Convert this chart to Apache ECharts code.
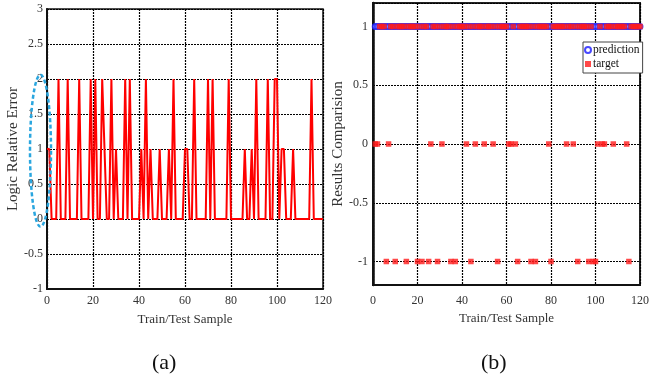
<!DOCTYPE html>
<html>
<head>
<meta charset="utf-8">
<script src="https://cdn.jsdelivr.net/npm/echarts@6/dist/echarts.min.js"></script>
<style>
  html, body { margin: 0; padding: 0; background: #fff; }
  #chart { width: 665px; height: 385px; }
</style>
</head>
<body>
<div id="chart"></div>
<script>
// (a) logic relative error per sample, samples 0..120
const errorValues = [
  1, 1, 0, 0, 0, 2, 0, 0, 0, 2,
  0, 0, 0, 0, 2, 0, 0, 0, 0, 2,
  0, 2, 0, 0, 2, 1, 0, 0, 2, 0,
  1, 0, 0, 0, 2, 0, 2, 0, 0, 0,
  0, 1, 0, 2, 0, 1, 0, 0, 0, 1,
  0, 0, 0, 1, 0, 2, 0, 0, 0, 0,
  1, 1, 0, 0, 2, 0, 0, 0, 0, 0,
  2, 0, 2, 0, 0, 0, 0, 0, 0, 2,
  0, 0, 0, 0, 0, 0, 1, 0, 0, 1,
  0, 2, 0, 0, 0, 0, 2, 0, 0, 2,
  2, 0, 1, 1, 0, 0, 0, 1, 0, 0,
  0, 0, 0, 0, 0, 2, 0, 0, 0, 0,
  0
]

// (b) target class per sample, samples 1..120
const targetValues = [
  0, 0, 1, 1, 1, -1, 0, 1, 1, -1,
  1, 1, 1, 1, -1, 1, 1, 1, 1, -1,
  1, -1, 1, 1, -1, 0, 1, 1, -1, 1,
  0, 1, 1, 1, -1, 1, -1, 1, 1, 1,
  1, 0, 1, -1, 1, 0, 1, 1, 1, 0,
  1, 1, 1, 0, 1, -1, 1, 1, 1, 1,
  0, 0, 1, 0, -1, 1, 1, 1, 1, 1,
  -1, 1, -1, 1, 1, 1, 1, 1, 0, -1,
  1, 1, 1, 1, 1, 1, 0, 1, 1, 0,
  1, -1, 1, 1, 1, 1, -1, 1, -1, -1,
  0, 1, 0, 0, 1, 1, 1, 0, 1, 1,
  1, 1, 1, 0, -1, 1, 1, 1, 1, 1
]

// (b) predicted class per sample, samples 1..120
const predictionValues = [
  1, 1, 1, 1, 1, 1, 1, 1, 1, 1,
  1, 1, 1, 1, 1, 1, 1, 1, 1, 1,
  1, 1, 1, 1, 1, 1, 1, 1, 1, 1,
  1, 1, 1, 1, 1, 1, 1, 1, 1, 1,
  1, 1, 1, 1, 1, 1, 1, 1, 1, 1,
  1, 1, 1, 1, 1, 1, 1, 1, 1, 1,
  1, 1, 1, 1, 1, 1, 1, 1, 1, 1,
  1, 1, 1, 1, 1, 1, 1, 1, 1, 1,
  1, 1, 1, 1, 1, 1, 1, 1, 1, 1,
  1, 1, 1, 1, 1, 1, 1, 1, 1, 1,
  1, 1, 1, 1, 1, 1, 1, 1, 1, 1,
  1, 1, 1, 1, 1, 1, 1, 1, 1, 1
]

const xTicks = { min: 0, max: 120, interval: 20 }
const panelLabels = ['(a)', '(b)']

const FONT = '"Liberation Serif", "DejaVu Serif", serif'
const TEXT = '#333'

const errorData = errorValues.map((v, i) => [i, v])
const targetData = targetValues.map((v, i) => [i + 1, v])
const predictionData = predictionValues.map((v, i) => [i + 1, v])

const gridLine = { show: true, lineStyle: { color: '#000', type: [2, 1], width: 1.2 } }

function xAxisFor(gridIndex, margin, nameGap) {
  return {
    type: 'value',
    gridIndex,
    min: xTicks.min,
    max: xTicks.max,
    interval: xTicks.interval,
    axisLine: { show: true, onZero: false, lineStyle: { color: '#111', width: 2 } },
    axisTick: { show: false },
    axisLabel: { color: TEXT, fontFamily: FONT, fontSize: 12, margin },
    splitLine: gridLine,
    name: 'Train/Test Sample',
    nameLocation: 'middle',
    nameGap,
    nameTextStyle: { color: TEXT, fontFamily: FONT, fontSize: 13 },
  }
}

const chart = echarts.init(document.getElementById('chart'), null, { renderer: 'canvas' })

chart.setOption({
  animation: false,
  backgroundColor: '#fff',
  grid: [
    { left: 47, top: 9, width: 276, height: 280, show: true, borderColor: '#111', borderWidth: 1.5 },
    { left: 373, top: 3, width: 267, height: 282, show: true, borderColor: '#222', borderWidth: 2 },
  ],
  xAxis: [xAxisFor(0, 6, 24), xAxisFor(1, 10, 26)],
  yAxis: [
    {
      type: 'value',
      gridIndex: 0,
      min: -1,
      max: 3,
      interval: 0.5,
      axisLine: { show: true, lineStyle: { color: '#111', width: 2 } },
      axisTick: { show: false },
      axisLabel: { color: TEXT, fontFamily: FONT, fontSize: 12, margin: 4 },
      splitLine: gridLine,
      name: 'Logic Relative Error',
      nameLocation: 'middle',
      nameGap: 19,
      nameTextStyle: { color: TEXT, fontFamily: FONT, fontSize: 15 },
    },
    {
      type: 'value',
      gridIndex: 1,
      min: -1.2,
      max: 1.2,
      splitNumber: 5,
      axisLine: { show: true, lineStyle: { color: '#111', width: 2.5 } },
      axisTick: { show: false },
      axisLabel: {
        color: TEXT, fontFamily: FONT, fontSize: 12, margin: 5,
        showMinLabel: false, showMaxLabel: false,
      },
      splitLine: gridLine,
      name: 'Results Comparision',
      nameLocation: 'middle',
      nameGap: 19,
      nameTextStyle: { color: TEXT, fontFamily: FONT, fontSize: 15 },
    },
  ],
  legend: {
    data: ['prediction', 'target'],
    orient: 'vertical',
    left: 583,
    top: 42,
    itemWidth: 6,
    itemHeight: 6,
    itemGap: 2,
    padding: [2, 3, 3, 1],
    backgroundColor: '#fff',
    borderColor: '#444',
    borderWidth: 1,
    textStyle: { color: '#111', fontFamily: FONT, fontSize: 11.5, padding: [0, 0, 0, -3] },
  },
  series: [
    {
      name: 'error',
      type: 'line',
      xAxisIndex: 0,
      yAxisIndex: 0,
      data: errorData,
      symbol: 'none',
      lineStyle: { color: '#ff0000', width: 2 },
      z: 3,
    },
    {
      name: 'prediction',
      type: 'scatter',
      xAxisIndex: 1,
      yAxisIndex: 1,
      data: predictionData,
      symbol: 'emptyCircle',
      symbolSize: 5,
      itemStyle: { color: '#1a1aff', borderWidth: 1.3 },
      z: 3,
    },
    {
      name: 'target',
      type: 'scatter',
      xAxisIndex: 1,
      yAxisIndex: 1,
      data: targetData,
      symbol: 'rect',
      symbolSize: 5.5,
      itemStyle: { color: '#ff1a1a' },
      z: 4,
    },
  ],
})

// panel captions + the dashed ellipse marking the 0..2 range on the y axis
const ellMid = chart.convertToPixel({ gridIndex: 0 }, [0, 0.98])
const ellTop = chart.convertToPixel({ gridIndex: 0 }, [0, 2.06])
const ellBottom = chart.convertToPixel({ gridIndex: 0 }, [0, -0.11])

chart.setOption({
  graphic: [
    {
      type: 'ellipse',
      shape: {
        cx: ellMid[0] - 6.5,
        cy: (ellTop[1] + ellBottom[1]) / 2,
        rx: 10.5,
        ry: (ellBottom[1] - ellTop[1]) / 2,
      },
      style: { fill: null, stroke: '#2aa6df', lineWidth: 2.5, lineDash: [4, 2.5] },
      z: 10,
    },
    {
      type: 'text', left: 152, top: 352,
      style: { text: panelLabels[0], font: '22px ' + FONT, fill: '#111' },
    },
    {
      type: 'text', left: 481, top: 352,
      style: { text: panelLabels[1], font: '22px ' + FONT, fill: '#111' },
    },
  ],
})

window.addEventListener('resize', () => chart.resize())
</script>
</body>
</html>
